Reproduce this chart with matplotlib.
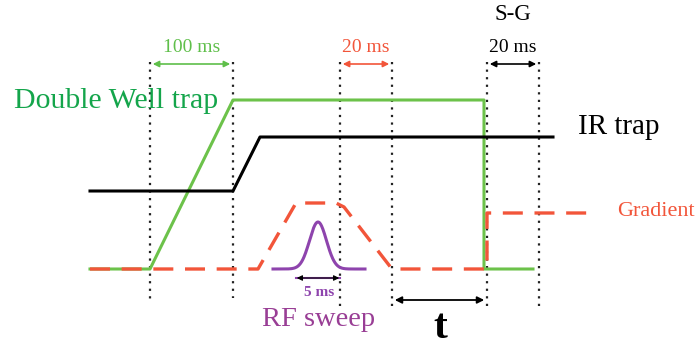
import matplotlib
matplotlib.use("Agg")
import matplotlib.pyplot as plt
import numpy as np

# timing diagram in image pixel coordinates (x right, y down)
GUIDE_X = [150, 233, 340, 392, 487, 539]
GUIDE_Y0 = [62, 62, 62, 62, 62, 62]
GUIDE_Y1 = [300, 298, 310, 310, 310, 310]

DW_X = [90, 150, 233, 484, 484, 533]
DW_Y = [269, 269, 100, 100, 269, 269]

IR_X = [90, 233, 260, 553]
IR_Y = [191, 191, 137, 137]

GRAD_X = [90, 258, 296, 336, 344, 392, 487, 487, 592]
GRAD_Y = [269, 269, 203, 203, 207, 269, 269, 213, 213]

RF_BASE = [273, 365]
RF_CENTER = 318
RF_WIDTH = 12.0
RF_PEAK = 222
RF_LEVEL = 269

# spans: (x0, x1, y, label, color, label y, label size)
SPANS = [
    (150, 233, 64, "100 ms", "#5fbf4a", 47, 14),
    (340, 392, 64, "20 ms", "#f2553a", 47, 14),
    (487, 539, 64, "20 ms", "black", 47, 14),
]

GREEN = "#6cc24a"
GREEN_TXT = "#14a54b"
RED = "#f2553a"
PURPLE = "#8e44ad"
PURPLE_TXT = "#993e95"

plt.rcParams["font.family"] = ["Liberation Serif", "DejaVu Serif"]

fig = plt.figure(figsize=(6.98, 3.49), dpi=100)
ax = fig.add_axes([0, 0, 1, 1])
ax.set_xlim(0, 698)
ax.set_ylim(349, 0)
ax.axis("off")

for x, y0, y1 in zip(GUIDE_X, GUIDE_Y0, GUIDE_Y1):
    ax.plot([x, x], [y0, y1], color="#222222", lw=1.6, ls=(0, (1, 2.4)), zorder=1)

ax.plot(IR_X, IR_Y, color="black", lw=2.2, zorder=3)
ax.plot(GRAD_X, GRAD_Y, color=RED, lw=2.4, ls=(0, (6, 3.5)), zorder=4)
ax.plot(DW_X, DW_Y, color=GREEN, lw=2.2, zorder=2)

xs = np.linspace(RF_BASE[0], RF_BASE[1], 300)
ys = RF_LEVEL - (RF_LEVEL - RF_PEAK) * np.exp(-((xs - RF_CENTER) / RF_WIDTH) ** 2)
ax.plot(xs, ys, color=PURPLE, lw=2.2, zorder=5)

# 5 ms marker under the RF pulse
ax.plot([296, 340], [278, 278], color=PURPLE, lw=1.5, zorder=5)
ax.annotate("", xy=(294, 278), xytext=(342, 278),
            arrowprops=dict(arrowstyle="<|-|>", color="black", lw=0.8,
                            mutation_scale=8), zorder=6)
ax.text(319, 292, "5 ms", color=PURPLE, fontsize=11, fontweight="bold",
        ha="center", va="center")

for x0, x1, y, label, color, ly, fs in SPANS:
    ax.annotate("", xy=(x0, y), xytext=(x1, y),
                arrowprops=dict(arrowstyle="<|-|>", color=color, lw=1.2,
                                mutation_scale=9))
    ax.text((x0 + x1) / 2, ly, label, color=color, fontsize=fs,
            ha="center", va="center")

ax.text(513, 15, "S-G", color="black", fontsize=16.5, ha="center", va="center")

# t interval
ax.annotate("", xy=(392, 300), xytext=(487, 300),
            arrowprops=dict(arrowstyle="<|-|>", color="black", lw=1.3,
                            mutation_scale=10))
ax.text(440, 328, "t", color="black", fontsize=30, fontweight="bold",
        ha="center", va="center")

ax.text(14, 101, "Double Well trap", color=GREEN_TXT, fontsize=21.5,
        ha="left", va="center")
ax.text(578, 127, "IR trap", color="black", fontsize=21, ha="left", va="center")
ax.text(617, 212, "Gradient", color=RED, fontsize=16, ha="left", va="center")
ax.text(319, 320, "RF sweep", color=PURPLE_TXT, fontsize=20.5,
        ha="center", va="center")

fig.savefig("out.png", dpi=100)
